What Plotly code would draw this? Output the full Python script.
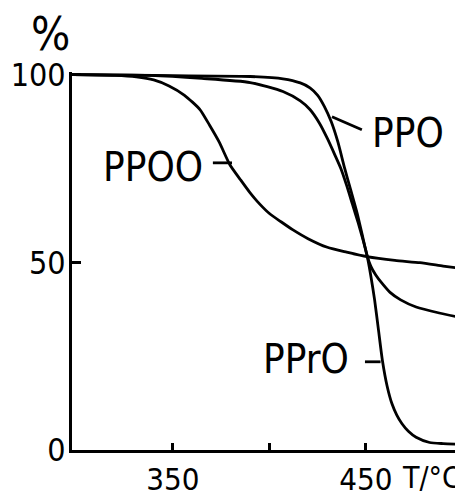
import plotly.graph_objects as go

# Data
T_PPOO = [298, 320, 331, 340, 348, 356, 364, 369, 374, 379.5, 385, 390, 395, 400, 406, 412, 420, 430, 440, 450.5, 465, 478, 490, 500]
W_PPOO = [100, 99.8, 99.4, 98.6, 97, 94.5, 90.7, 86.5, 82, 76, 72, 68.5, 65.5, 63, 60.8, 58.7, 56.3, 54, 52.7, 51.5, 50.5, 49.9, 49.0, 48.3]

T_PPO = [298, 340, 390, 407, 416, 421, 425, 428.5, 432, 435.5, 439, 442, 445.5, 448, 450.5, 452.5, 455, 458.5, 462.5, 468, 476, 488, 500]
W_PPO = [100, 99.8, 99.5, 98.9, 97.8, 96.5, 94.5, 91.5, 87.5, 82, 75, 69.5, 63, 57.5, 52, 49, 46.7, 44.3, 42, 40, 38.1, 36.5, 35.2]

T_PPrO = [298, 338, 365, 390, 407, 416, 421, 426, 430, 434, 437, 440, 443, 446, 448.5, 450.5, 452.5, 454.5, 456.5, 458.5, 461, 463.5, 466, 468.7, 472, 476, 483, 490, 500]
W_PPrO = [100, 99.8, 99, 97.9, 95.5, 93, 90.7, 87, 83, 78.5, 75, 70.5, 65.5, 60.5, 56, 52, 46.5, 40, 32, 24, 17, 12.3, 9.3, 7, 5, 3.4, 2, 1.7, 1.5]

x_tickvals = [350, 400, 450]
x_ticktext = ["350", "", "450"]
y_tickvals = [0, 50, 100]
y_ticktext = ["0", "50", "100"]

FONT = "DejaVu Sans Condensed, DejaVu Sans, sans-serif"
LW = 2.8

fig = go.Figure()
for T, W, name in [(T_PPOO, W_PPOO, "PPOO"), (T_PPO, W_PPO, "PPO"), (T_PPrO, W_PPrO, "PPrO")]:
    fig.add_trace(go.Scatter(x=T, y=W, mode="lines", name=name,
                             line=dict(color="black", width=LW, shape="spline", smoothing=0.6),
                             showlegend=False, hoverinfo="skip"))

# label pointer lines
pointers = [
    ((447.9, 85.3), (432.4, 88.8)),   # PPO
    ((370.7, 76.5), (380.6, 76.5)),   # PPOO
    ((449.5, 23.5), (457.6, 23.5)),   # PPrO
]
for (x0, y0), (x1, y1) in pointers:
    fig.add_shape(type="line", x0=x0, y0=y0, x1=x1, y1=y1, xref="x", yref="y",
                  line=dict(color="black", width=LW))

labels = [("PPO", 471.8, 84.5), ("PPOO", 339.6, 75.5), ("PPrO", 418.9, 24.3)]
for txt, x, y in labels:
    fig.add_annotation(text=txt, x=x, y=y, xref="x", yref="y", showarrow=False,
                       font=dict(family=FONT, size=40, color="black"),
                       xanchor="center", yanchor="middle")

fig.add_annotation(text="%", x=-0.055, y=1.10, xref="paper", yref="paper", showarrow=False,
                   font=dict(family=FONT, size=46, color="black"), xanchor="center", yanchor="middle")
fig.add_annotation(text="T/°C", x=0.92, y=-0.074, xref="paper", yref="paper", showarrow=False,
                   font=dict(family=FONT, size=30, color="black"), xanchor="center", yanchor="middle")

# page body has an 8px margin: offset the figure margins to place the plot area as in the reference
fig.update_layout(
    width=463, height=499,
    margin=dict(l=64, r=8, t=64.4, b=57, pad=0),
    plot_bgcolor="white", paper_bgcolor="white",
    xaxis=dict(range=[297.7, 500.3], tickvals=x_tickvals, ticktext=x_ticktext,
               ticks="inside", ticklen=7, tickwidth=2.5, tickcolor="black",
               showline=True, linecolor="black", linewidth=3, showgrid=False, zeroline=False,
               automargin=False,
               tickfont=dict(family=FONT, size=31, color="black")),
    yaxis=dict(range=[0, 100.7], tickvals=y_tickvals, ticktext=y_ticktext,
               ticks="inside", ticklen=9, tickwidth=2.5, tickcolor="black",
               showline=True, linecolor="black", linewidth=3, showgrid=False, zeroline=False,
               automargin=False, ticklabelstandoff=-3,
               tickfont=dict(family=FONT, size=32, color="black")),
)

fig.write_html("out.html")
